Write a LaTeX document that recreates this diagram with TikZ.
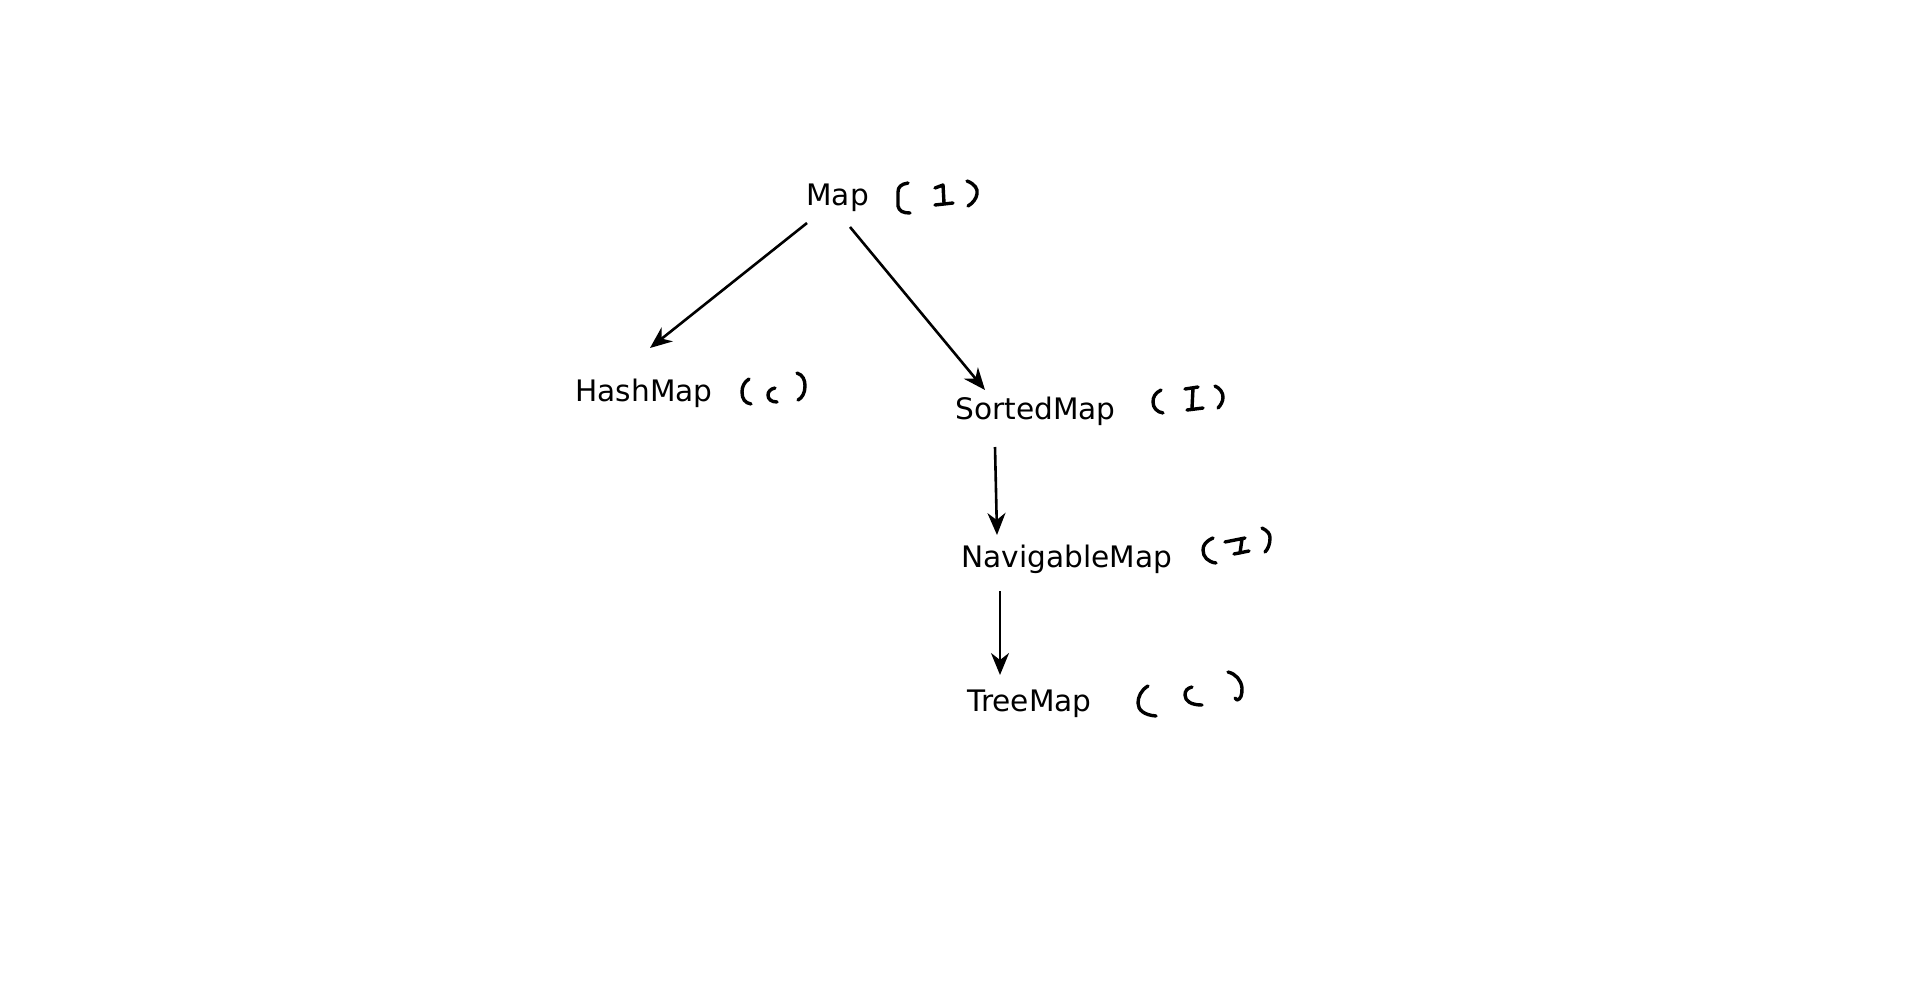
\documentclass[tikz,border=0pt]{standalone}
\usepackage{fontspec}
\setmainfont{DejaVu Sans}
\usetikzlibrary{arrows.meta}
\begin{document}
\begin{tikzpicture}[x=0.5pt,y=-0.5pt,
  lbl/.style={anchor=base west,inner sep=0pt,font=\fontsize{14.8}{17}\selectfont},
  arr/.style={line width=1.3pt,-{Stealth[length=11pt,width=9pt,inset=3.5pt]}},
  hand/.style={line width=1.7pt,line cap=round,line join=round}]
\useasboundingbox[fill=white] (0,0) rectangle (1920,991);
% nodes
\node[lbl] (map) at (806,205) {Map};
\node[lbl] (hash) at (575,401) {HashMap};
\node[lbl] (sorted) at (955,419) {SortedMap};
\node[lbl] (nav) at (961,567) {NavigableMap};
\node[lbl] (tree) at (967,711) {TreeMap};
% connector end points
\coordinate (mA) at (807,223);
\coordinate (mB) at (850,227);
\coordinate (hT) at (650,348);
\coordinate (sT) at (985,390);
\coordinate (sB) at (995,447);
\coordinate (nT) at (997,535);
\coordinate (nB) at (1000,591);
\coordinate (tT) at (1000,675);
\draw[arr] (mA) -- (hT);
\draw[arr] (mB) -- (sT);
\draw[arr] (sB) -- (nT);
\draw[arr] (nB) -- (tT);
% handwritten annotations
% Map (1)
\draw[hand] (908,183) .. controls (901,184) and (898,187) .. (898,192) -- (898,206) .. controls (899,211) and (903,213) .. (910,213);
\draw[hand] (935,188) -- (943,185) -- (944,203);
\draw[hand] (935,205) -- (953,203);
\draw[hand] (967,181) .. controls (975,184) and (978,189) .. (977,194) .. controls (976,199) and (973,203) .. (968,206);
% HashMap (c)
\draw[hand] (749,379) .. controls (744,382) and (742,387) .. (742,392) .. controls (742,399) and (745,403) .. (751,404);
\draw[hand] (775,388) .. controls (770,389) and (768,392) .. (768,395) .. controls (768,399) and (771,402) .. (777,402);
\draw[hand] (797,373) .. controls (803,375) and (805,380) .. (805,386) .. controls (805,393) and (802,398) .. (798,400);
% SortedMap (I)
\draw[hand] (1161,390) .. controls (1155,393) and (1153,397) .. (1153,402) .. controls (1153,408) and (1157,412) .. (1163,413);
\draw[hand] (1185,389) -- (1198,387);
\draw[hand] (1193,388) -- (1192,408);
\draw[hand] (1187,410) -- (1203,408);
\draw[hand] (1215,386) .. controls (1220,388) and (1223,393) .. (1223,397) .. controls (1223,401) and (1221,405) .. (1218,408);
% NavigableMap (1)
\draw[hand] (1213,538) .. controls (1206,541) and (1203,545) .. (1203,550) .. controls (1203,557) and (1208,562) .. (1216,563);
\draw[hand] (1225,542) -- (1245,538);
\draw[hand] (1242,539) -- (1240,553);
\draw[hand] (1234,554) -- (1249,551);
\draw[hand] (1262,528) .. controls (1268,531) and (1270,534) .. (1270,538) .. controls (1270,544) and (1268,549) .. (1265,552);
% TreeMap (C)
\draw[hand] (1148,686) .. controls (1141,690) and (1138,697) .. (1138,703) .. controls (1138,710) and (1144,715) .. (1156,716);
\draw[hand] (1192,687) .. controls (1187,688) and (1185,691) .. (1185,695) .. controls (1185,701) and (1191,705) .. (1202,705);
\draw[hand] (1228,672) .. controls (1236,674) and (1241,680) .. (1242,688) .. controls (1242,695) and (1241,699) .. (1237,700) -- (1235,698);
\end{tikzpicture}
\end{document}
